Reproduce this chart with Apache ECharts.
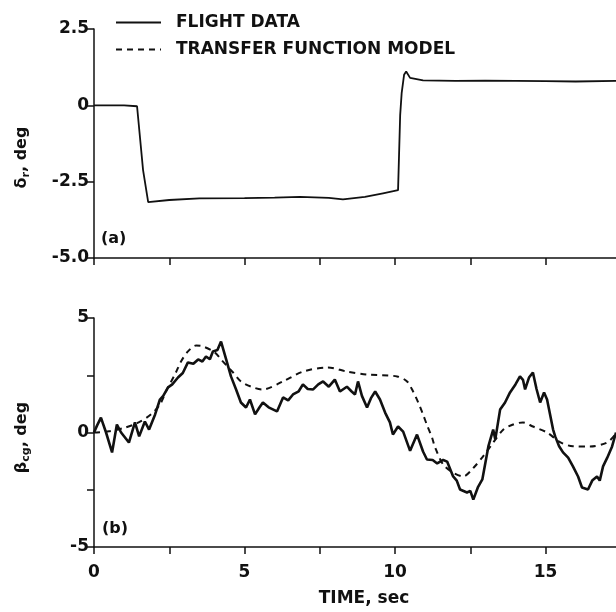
<!DOCTYPE html>
<html>
<head>
<meta charset="utf-8">
<script src="https://cdn.jsdelivr.net/npm/echarts@6.0.0/dist/echarts.min.js"></script>
<style>
html,body{margin:0;padding:0;background:#fff}
#main{width:616px;height:612px}
</style>
</head>
<body>
<div id="main"></div>
<script>
// panel (a): rudder deflection, flight data
var timeA = [0, 1.0, 1.43, 1.63, 1.8, 2.5, 3.5, 5.0, 6.0, 6.84, 7.8, 8.27, 9.0, 9.6, 10.1, 10.17, 10.22, 10.3, 10.37, 10.5, 10.93, 12, 13, 14, 15, 16, 17.34];
var rudderA = [0, 0, -0.03, -2.12, -3.17, -3.1, -3.05, -3.04, -3.02, -3.0, -3.03, -3.08, -3.0, -2.88, -2.78, -0.33, 0.4, 1.0, 1.11, 0.9, 0.82, 0.8, 0.81, 0.8, 0.79, 0.78, 0.8];

// panel (b): sideslip, flight data
var timeB = [0, 0.1, 0.23, 0.4, 0.6, 0.76, 0.9, 1.16, 1.36, 1.5, 1.69, 1.83, 2.03, 2.19, 2.3, 2.46, 2.6, 2.79, 2.95, 3.12, 3.3, 3.46, 3.6, 3.72, 3.85, 3.95, 4.1, 4.22, 4.39, 4.55, 4.72, 4.88, 5.05, 5.18, 5.35, 5.5, 5.61, 5.8, 6.08, 6.28, 6.45, 6.61, 6.8, 6.94, 7.1, 7.28, 7.45, 7.61, 7.8, 8.0, 8.17, 8.4, 8.55, 8.67, 8.77, 8.9, 9.07, 9.2, 9.34, 9.5, 9.67, 9.83, 9.93, 10.1, 10.27, 10.5, 10.73, 10.93, 11.06, 11.25, 11.4, 11.6, 11.73, 11.93, 12.05, 12.16, 12.39, 12.5, 12.6, 12.75, 12.9, 13.1, 13.26, 13.33, 13.49, 13.65, 13.82, 14.0, 14.15, 14.25, 14.32, 14.45, 14.58, 14.7, 14.82, 14.95, 15.05, 15.25, 15.32, 15.45, 15.58, 15.75, 15.91, 16.08, 16.21, 16.41, 16.55, 16.71, 16.8, 16.91, 17.05, 17.21, 17.34];
var flightB = [0, 0.3, 0.65, 0.0, -0.87, 0.35, 0.0, -0.44, 0.44, -0.17, 0.48, 0.13, 0.79, 1.44, 1.6, 1.97, 2.1, 2.4, 2.6, 3.06, 3.0, 3.19, 3.1, 3.32, 3.2, 3.54, 3.6, 3.97, 3.19, 2.45, 1.88, 1.31, 1.09, 1.44, 0.79, 1.1, 1.31, 1.1, 0.92, 1.53, 1.4, 1.66, 1.8, 2.1, 1.9, 1.88, 2.1, 2.23, 2.0, 2.31, 1.79, 2.0, 1.8, 1.66, 2.23, 1.6, 1.09, 1.5, 1.79, 1.44, 0.87, 0.44, -0.09, 0.26, 0.04, -0.8, -0.09, -0.83, -1.18, -1.2, -1.35, -1.2, -1.27, -1.92, -2.1, -2.49, -2.62, -2.55, -2.93, -2.4, -2.05, -0.61, 0.13, -0.3, 1.0, 1.3, 1.75, 2.1, 2.45, 2.3, 1.88, 2.4, 2.62, 1.9, 1.31, 1.75, 1.44, 0.13, -0.17, -0.6, -0.87, -1.1, -1.48, -1.92, -2.4, -2.49, -2.1, -1.92, -2.1, -1.48, -1.1, -0.61, 0.0];

// panel (b): transfer function model
var timeM = [0, 0.5, 1.0, 1.5, 1.9, 2.19, 2.39, 2.72, 2.89, 3.12, 3.39, 3.62, 4.02, 4.22, 4.62, 4.88, 5.22, 5.6, 6.28, 6.94, 7.77, 8.4, 9.07, 10.07, 10.4, 10.6, 10.77, 10.93, 11.08, 11.23, 11.33, 11.6, 11.93, 12.26, 12.6, 12.92, 13.26, 13.6, 13.92, 14.25, 14.58, 15.05, 15.48, 15.91, 16.48, 17.04, 17.34];
var modelB = [0, 0.05, 0.2, 0.45, 0.8, 1.22, 1.79, 2.62, 3.1, 3.54, 3.8, 3.76, 3.49, 3.19, 2.62, 2.23, 2.0, 1.88, 2.23, 2.66, 2.84, 2.66, 2.53, 2.45, 2.23, 1.79, 1.31, 0.79, 0.26, -0.22, -0.65, -1.4, -1.75, -1.92, -1.55, -1.05, -0.44, 0.13, 0.35, 0.44, 0.26, 0.0, -0.42, -0.6, -0.61, -0.44, -0.05];

var xTicks = [0, 2.5, 5, 7.5, 10, 12.5, 15];
var xLabels = [0, 5, 10, 15];
var tMax = 17.34;

function zip(xs, ys) {
	var out = [];
	for (var i = 0; i < xs.length; i++) {
		out.push([xs[i], ys[i]]);
	}
	return out;
}

var font = 'DejaVu Sans';
var ink = '#111';
var axisLineStyle = {lineStyle: {color: ink, width: 1.5}, onZero: false};
var tickStyle = {length: 7, lineStyle: {color: ink, width: 1.5}};

var myChart = echarts.init(document.getElementById('main'));

var option = {
	animation: false,
	backgroundColor: '#fff',
	color: [ink, ink, ink],
	title: [
		{text: '(a)', left: 101, top: 231, padding: 0,
			textStyle: {color: ink, fontFamily: font, fontWeight: 'bold', fontSize: 16}},
		{text: '(b)', left: 102, top: 521, padding: 0,
			textStyle: {color: ink, fontFamily: font, fontWeight: 'bold', fontSize: 16}}
	],
	legend: {
		orient: 'vertical',
		left: 115,
		top: 14,
		itemWidth: 45,
		itemHeight: 14,
		itemGap: 10,
		padding: 0,
		itemStyle: {opacity: 0},
		data: ['FLIGHT DATA', 'TRANSFER FUNCTION MODEL'],
		textStyle: {color: ink, fontFamily: font, fontWeight: 'bold', fontSize: 17, padding: [0, 0, 0, 10]}
	},
	grid: [
		{left: 94, right: 0, top: 29, height: 229, containLabel: false},
		{left: 94, right: 0, top: 318, height: 229, containLabel: false}
	],
	xAxis: [
		{
			type: 'value', gridIndex: 0, min: 0, max: tMax,
			axisLine: axisLineStyle,
			axisTick: {show: true, customValues: xTicks, length: 7, lineStyle: {color: ink, width: 1.5}},
			axisLabel: {show: false},
			splitLine: {show: false}
		},
		{
			type: 'value', gridIndex: 1, min: 0, max: tMax,
			name: 'TIME, sec',
			nameLocation: 'middle',
			nameGap: 43,
			nameTextStyle: {color: ink, fontFamily: font, fontWeight: 'bold', fontSize: 17, padding: [0, 0, 0, 18]},
			axisLine: axisLineStyle,
			axisTick: {show: true, customValues: xTicks, length: 7, lineStyle: {color: ink, width: 1.5}},
			axisLabel: {customValues: xLabels, margin: 17, color: ink, fontFamily: font, fontWeight: 'bold', fontSize: 17},
			splitLine: {show: false}
		}
	],
	yAxis: [
		{
			type: 'value', gridIndex: 0, min: -5, max: 2.5, interval: 2.5,
			name: '{g|δ}{s|r}{g|, deg}',
			nameLocation: 'middle',
			nameRotate: 90,
			nameGap: 62,
			nameTextStyle: {
				padding: [0, 28, 0, 0],
				rich: {
					g: {color: ink, fontFamily: font, fontWeight: 'bold', fontSize: 16, lineHeight: 20},
					s: {color: ink, fontFamily: font, fontWeight: 'bold', fontSize: 11, lineHeight: 11, verticalAlign: 'bottom'}
				}
			},
			axisLine: {lineStyle: {color: ink, width: 1.5}},
			axisTick: tickStyle,
			axisLabel: {
				margin: 5, color: ink, fontFamily: font, fontWeight: 'bold', fontSize: 17,
				formatter: function (v) { return v === 0 ? '0' : v.toFixed(1); }
			},
			splitLine: {show: false}
		},
		{
			type: 'value', gridIndex: 1, min: -5, max: 5, interval: 2.5,
			name: '{g|β}{s|cg}{g|, deg}',
			nameLocation: 'middle',
			nameRotate: 90,
			nameGap: 62,
			nameTextStyle: {
				padding: [0, 10, 0, 0],
				rich: {
					g: {color: ink, fontFamily: font, fontWeight: 'bold', fontSize: 16, lineHeight: 20},
					s: {color: ink, fontFamily: font, fontWeight: 'bold', fontSize: 11, lineHeight: 11, verticalAlign: 'bottom'}
				}
			},
			axisLine: {lineStyle: {color: ink, width: 1.5}},
			axisTick: tickStyle,
			axisLabel: {
				margin: 5, color: ink, fontFamily: font, fontWeight: 'bold', fontSize: 17,
				formatter: function (v) { return v % 5 === 0 ? String(v) : ''; }
			},
			splitLine: {show: false}
		}
	],
	series: [
		{
			name: 'FLIGHT DATA',
			type: 'line',
			xAxisIndex: 0, yAxisIndex: 0,
			symbol: 'none',
			itemStyle: {color: ink},
			lineStyle: {color: ink, width: 1.8},
			data: zip(timeA, rudderA)
		},
		{
			name: 'FLIGHT DATA',
			type: 'line',
			xAxisIndex: 1, yAxisIndex: 1,
			symbol: 'none',
			itemStyle: {color: ink},
			lineStyle: {color: ink, width: 2.6},
			data: zip(timeB, flightB)
		},
		{
			name: 'TRANSFER FUNCTION MODEL',
			type: 'line',
			xAxisIndex: 1, yAxisIndex: 1,
			symbol: 'none',
			smooth: 0.3,
			itemStyle: {color: ink},
			lineStyle: {color: ink, width: 2, type: [6, 5]},
			data: zip(timeM, modelB)
		}
	]
};
myChart.setOption(option);
</script>
</body>
</html>
